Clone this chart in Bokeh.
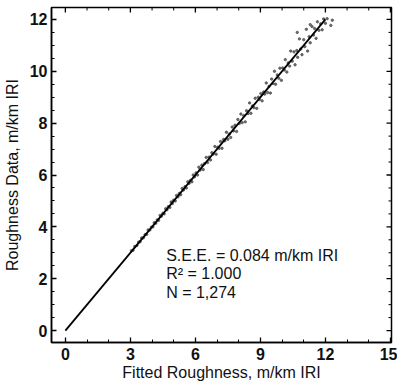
import math
from bokeh.plotting import figure
from bokeh.models import SingleIntervalTicker, Label, Range1d
from bokeh.embed import file_html
from bokeh.resources import INLINE

# Scatter: fitted roughness (x) vs measured roughness data (y), m/km IRI
fitted = [3.05, 3.12, 3.2, 3.3, 3.38, 3.45, 3.52, 3.6, 3.68, 3.75, 3.82, 3.9, 3.97, 4.04,
          4.1, 4.17, 4.24, 4.3, 4.37, 4.43, 4.5, 4.56, 4.63, 4.69, 4.75, 4.82, 4.88, 4.94,
          5.0, 5.07, 5.13, 5.2, 5.26, 5.32, 5.39, 5.45, 5.52, 5.58, 5.65, 5.71, 5.78, 5.84,
          5.9, 5.96,
          6.03, 6.1, 6.16, 6.22, 6.3, 6.36, 6.42, 6.5, 6.56, 6.63, 6.7, 6.76, 6.83, 6.9,
          6.96, 7.03, 7.1, 7.16, 7.23, 7.3, 7.36, 7.43, 7.5, 7.56, 7.63, 7.7, 7.76, 7.83,
          7.9, 7.96, 8.03, 8.1, 8.16, 8.23, 8.3, 8.36, 8.43, 8.5, 8.56, 8.63, 8.7, 8.76,
          8.83, 8.9, 8.96,
          9.02, 9.08, 9.15, 9.2, 9.27, 9.33, 9.4, 9.46, 9.52, 9.58, 9.65, 9.7, 9.78, 9.85,
          9.9, 9.97, 10.03, 10.1, 10.15, 10.22, 10.28, 10.35, 10.4, 10.47, 10.55, 10.6,
          10.68, 10.72, 10.8, 10.86, 10.92, 11.0, 11.05, 11.12, 11.18, 11.25, 11.3, 11.38,
          11.45, 11.5, 11.57, 11.63, 11.7, 11.78, 11.85, 11.92, 12.0, 12.08, 12.25, 12.32,
          10.7, 11.3]
measured = [3.08, 3.1, 3.24, 3.28, 3.41, 3.43, 3.57, 3.58, 3.7, 3.71, 3.88, 3.88, 3.99, 4.0,
            4.16, 4.14, 4.27, 4.25, 4.44, 4.41, 4.52, 4.5, 4.7, 4.66, 4.78, 4.75, 4.96, 4.9,
            5.03, 5.0, 5.21, 5.16, 5.29, 5.24, 5.48, 5.42, 5.55, 5.5, 5.74, 5.68, 5.8, 5.74,
            6.0, 5.93,
            6.08, 6.0, 6.3, 6.19, 6.38, 6.21, 6.44, 6.68, 6.48, 6.69, 6.58, 6.86, 6.81, 7.1,
            6.8, 7.07, 7.03, 7.29, 7.03, 7.37, 7.32, 7.65, 7.38, 7.58, 7.45, 7.85, 7.7, 7.92,
            7.68, 8.14, 7.99, 8.35, 8.02, 8.29, 8.05, 8.48, 8.37, 8.78, 8.38, 8.66, 8.6, 8.96,
            8.57, 9.0, 8.91,
            9.14, 8.86, 9.2, 9.12, 9.55, 9.18, 9.42, 9.16, 9.7, 9.53, 10.0, 9.5, 9.86, 9.73,
            10.12, 9.65, 10.13, 10.05, 10.45, 9.97, 10.32, 10.2, 10.78, 10.39, 10.75, 10.25,
            10.8, 10.54, 11.25, 10.86, 10.64, 11.22, 10.95, 11.62, 10.78, 11.33, 11.1, 11.73,
            11.4, 11.65, 11.27, 11.91, 11.58, 11.83, 11.6, 12.02, 11.85, 12.03, 11.77, 11.97,
            11.5, 11.8]

# Fitted line
fit_x = [0, 12]
fit_y = [0, 12]

# Axis ticks
x_major = [0, 3, 6, 9, 12, 15]
x_minor = [1, 2, 4, 5, 7, 8, 10, 11, 13, 14]
y_major = [0, 2, 4, 6, 8, 10, 12]
y_minor = [0.5, 1, 1.5, 2.5, 3, 3.5, 4.5, 5, 5.5, 6.5, 7, 7.5, 8.5, 9, 9.5,
           10.5, 11, 11.5]

stats_lines = ["S.E.E. = 0.084 m/km IRI", "R\u00b2 = 1.000", "N = 1,274"]

FONT = "Liberation Sans"
X0, X1 = -0.64, 15.05
Y0, Y1 = -0.46, 12.46

p = figure(frame_width=340, frame_height=335, output_backend="svg", toolbar_location=None,
           x_range=Range1d(X0, X1), y_range=Range1d(Y0, Y1),
           min_border_left=49, min_border_right=6, min_border_top=7, min_border_bottom=38)
p.grid.visible = False
p.outline_line_color = "black"
p.outline_line_width = 1.5

p.scatter(fitted, measured, marker="circle", size=2.4, color="#555555", alpha=0.85)
p.line(fit_x, fit_y, color="black", line_width=1.8)

p.xaxis.ticker = SingleIntervalTicker(interval=3, num_minor_ticks=3)
p.yaxis.ticker = SingleIntervalTicker(interval=2, num_minor_ticks=4)
p.xaxis.axis_label = "Fitted Roughness, m/km IRI"
p.yaxis.axis_label = "Roughness Data, m/km IRI"
for ax in (p.xaxis[0], p.yaxis[0]):
    ax.major_tick_in = 5
    ax.major_tick_out = 0
    ax.minor_tick_in = 3
    ax.minor_tick_out = 0
    ax.axis_line_color = "black"
    ax.axis_line_width = 1.5
    ax.major_tick_line_color = "black"
    ax.minor_tick_line_color = "black"
    ax.major_tick_line_width = 1.3
    ax.minor_tick_line_width = 1.0
    ax.major_label_text_font = FONT
    ax.major_label_text_font_size = "16px"
    ax.major_label_text_font_style = "bold"
    ax.major_label_text_color = "#111111"
    ax.axis_label_text_font = FONT
    ax.axis_label_text_font_size = "16px"
    ax.axis_label_text_font_style = "normal"
    ax.axis_label_text_color = "#111111"
p.xaxis.major_label_standoff = 5
p.xaxis.axis_label_standoff = 1
p.yaxis.major_label_standoff = 4
p.yaxis.axis_label_standoff = 6

# Mirror ticks on the top and right frame edges
p.ray(x=x_major, y=[Y1] * len(x_major), length=5, length_units="screen",
      angle=-math.pi / 2, color="black", line_width=1.3)
p.ray(x=x_minor, y=[Y1] * len(x_minor), length=3, length_units="screen",
      angle=-math.pi / 2, color="black", line_width=1.0)
p.ray(x=[X1] * len(y_major), y=y_major, length=5, length_units="screen",
      angle=math.pi, color="black", line_width=1.3)
p.ray(x=[X1] * len(y_minor), y=y_minor, length=3, length_units="screen",
      angle=math.pi, color="black", line_width=1.0)

for txt, yv in zip(stats_lines, [2.9, 2.2, 1.47]):
    p.add_layout(Label(x=4.65, y=yv, text=txt, text_font=FONT, text_font_size="16px",
                       text_baseline="middle", text_align="left", text_color="#111111"))

open("out.html", "w").write(file_html(p, INLINE))
